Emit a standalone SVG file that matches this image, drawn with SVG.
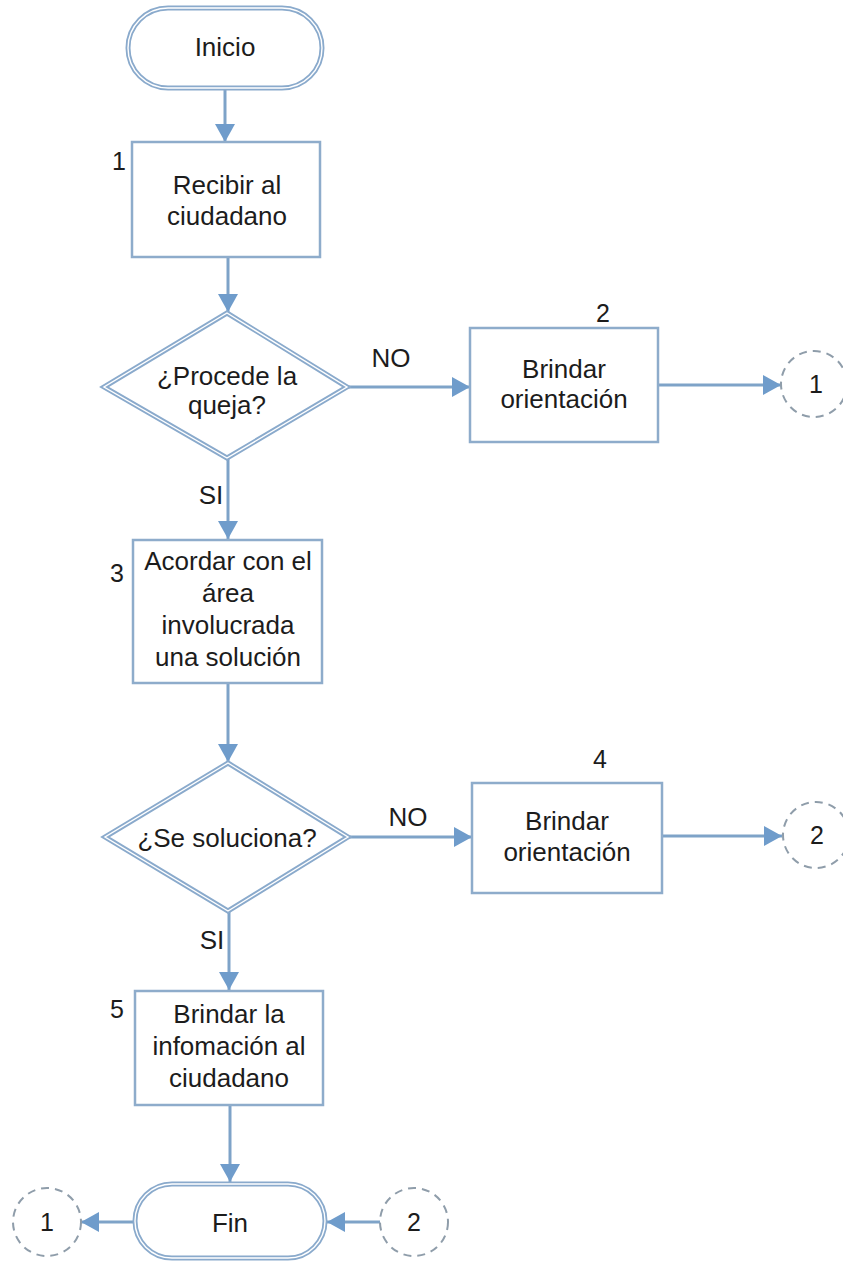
<svg xmlns="http://www.w3.org/2000/svg" width="843" height="1263" viewBox="0 0 843 1263">
<defs>
<style>
.t{font-family:"Liberation Sans",Arial,sans-serif;font-size:26px;fill:#1c1c1c;text-anchor:middle}
.n{font-family:"Liberation Sans",Arial,sans-serif;font-size:25px;fill:#1c1c1c;text-anchor:middle}
.box{fill:#ffffff;stroke:#8eaccb;stroke-width:2.5}
.dbl{fill:#ffffff;stroke:#8aaacc;stroke-width:5}
.dblin{fill:none;stroke:#ffffff;stroke-width:1.4}
.con{fill:none;stroke:#7ea3c8;stroke-width:3;marker-end:url(#ah)}
.circ{fill:#ffffff;stroke:#8f9daa;stroke-width:2;stroke-dasharray:8 6}
</style>
<marker id="ah" markerUnits="userSpaceOnUse" markerWidth="20" markerHeight="20" refX="18" refY="10" orient="auto">
<path d="M0,0 L18,10 L0,20 z" fill="#6f9ccb"/>
</marker>
</defs>
<rect width="843" height="1263" fill="#ffffff"/>
<g id="connectors">
<line class="con" x1="225" y1="88" x2="225" y2="142"/>
<line class="con" x1="228" y1="257" x2="228" y2="312"/>
<line class="con" x1="347" y1="387" x2="470" y2="387"/>
<line class="con" x1="658" y1="385" x2="781" y2="385"/>
<line class="con" x1="228" y1="458" x2="228" y2="539"/>
<line class="con" x1="228" y1="683" x2="228" y2="762"/>
<line class="con" x1="348" y1="837" x2="472" y2="837"/>
<line class="con" x1="662" y1="836" x2="782" y2="836"/>
<line class="con" x1="229" y1="911" x2="229" y2="990"/>
<line class="con" x1="230" y1="1105" x2="230" y2="1182"/>
<line class="con" x1="135" y1="1222" x2="81" y2="1222"/>
<line class="con" x1="380" y1="1222" x2="327" y2="1222"/>
</g>
<g id="inicio">
<rect class="dbl" x="128" y="8" width="194" height="80" rx="40"/>
<rect class="dblin" x="128" y="8" width="194" height="80" rx="40"/>
<text class="t" x="225" y="56">Inicio</text>
</g>
<g id="paso1">
<rect class="box" x="132" y="142" width="188" height="115"/>
<text class="n" x="119" y="170">1</text>
<text class="t" x="227" y="194">Recibir al</text>
<text class="t" x="227" y="225">ciudadano</text>
</g>
<g id="decision1">
<polygon class="dbl" points="227,313 347,387 227,458 104,387"/>
<polygon class="dblin" points="227,313 347,387 227,458 104,387"/>
<text class="t" x="227" y="385">¿Procede la</text>
<text class="t" x="227" y="414">queja?</text>
</g>
<g id="lbl-no1"><text class="t" x="391" y="367">NO</text></g>
<g id="lbl-si1"><text class="t" x="211" y="504">SI</text></g>
<g id="paso2">
<rect class="box" x="470" y="328" width="188" height="114"/>
<text class="n" x="603" y="322">2</text>
<text class="t" x="564" y="378">Brindar</text>
<text class="t" x="564" y="408">orientación</text>
</g>
<g id="conector1a">
<circle class="circ" cx="814" cy="384" r="33"/>
<text class="n" x="816" y="393">1</text>
</g>
<g id="paso3">
<rect class="box" x="133" y="540" width="189" height="143"/>
<text class="n" x="117" y="582">3</text>
<text class="t" x="228" y="570">Acordar con el</text>
<text class="t" x="228" y="602">área</text>
<text class="t" x="228" y="634">involucrada</text>
<text class="t" x="228" y="666">una solución</text>
</g>
<g id="decision2">
<polygon class="dbl" points="228,763 348,837 228,911 105,837"/>
<polygon class="dblin" points="228,763 348,837 228,911 105,837"/>
<text class="t" x="227" y="847">¿Se soluciona?</text>
</g>
<g id="lbl-no2"><text class="t" x="408" y="826">NO</text></g>
<g id="lbl-si2"><text class="t" x="212" y="949">SI</text></g>
<g id="paso4">
<rect class="box" x="472" y="783" width="190" height="110"/>
<text class="n" x="600" y="768">4</text>
<text class="t" x="567" y="830">Brindar</text>
<text class="t" x="567" y="861">orientación</text>
</g>
<g id="conector2a">
<circle class="circ" cx="816" cy="835" r="33"/>
<text class="n" x="817" y="844">2</text>
</g>
<g id="paso5">
<rect class="box" x="135" y="991" width="188" height="114"/>
<text class="n" x="117" y="1018">5</text>
<text class="t" x="229" y="1023">Brindar la</text>
<text class="t" x="229" y="1055">infomación al</text>
<text class="t" x="229" y="1087">ciudadano</text>
</g>
<g id="fin">
<rect class="dbl" x="135" y="1184" width="190" height="74" rx="37"/>
<rect class="dblin" x="135" y="1184" width="190" height="74" rx="37"/>
<text class="t" x="230" y="1232">Fin</text>
</g>
<g id="conector1b">
<circle class="circ" cx="47" cy="1222" r="34"/>
<text class="n" x="47" y="1231">1</text>
</g>
<g id="conector2b">
<circle class="circ" cx="414" cy="1222" r="34"/>
<text class="n" x="414" y="1231">2</text>
</g>
</svg>
